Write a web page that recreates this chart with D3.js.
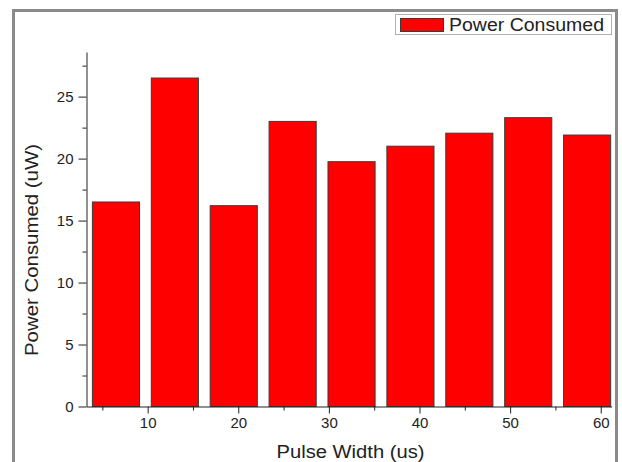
<!DOCTYPE html>
<html>
<head>
<meta charset="utf-8">
<script src="https://cdn.jsdelivr.net/npm/d3@7"></script>
<style>
  body { margin: 0; background: #fff; }
  text { font-family: "Liberation Sans", Arial, sans-serif; fill: #222; }
</style>
</head>
<body>
<script>
// values
var pulseX = [6.5, 13, 19.5, 26, 32.5, 39, 45.5, 52, 58.5];
var power = [16.5, 26.5, 16.2, 23.0, 19.75, 21.0, 22.05, 23.3, 21.9];
var xMajor = [10, 20, 30, 40, 50, 60];
var xMinor = [5, 15, 25, 35, 45, 55];
var yMajor = [0, 5, 10, 15, 20, 25];
var yMinor = [2.5, 7.5, 12.5, 17.5, 22.5, 27.5];
var barW = 5.2;

var width = 622, height = 462;

var svg = d3.select('body').append('svg')
  .attr('width', width)
  .attr('height', height);

// outer frame
svg.append('rect')
  .attr('x', 13.5).attr('y', 10.5)
  .attr('width', 603).attr('height', 470)
  .attr('fill', 'none')
  .attr('stroke', '#8a8a8a')
  .attr('stroke-width', 3);

var x = d3.scaleLinear().domain([3.25, 61.2]).range([86.5, 611.6]);
var y = d3.scaleLinear().domain([0, 28.6]).range([406.5, 52]);

// bars
svg.append('g').selectAll('rect')
  .data(power)
  .enter().append('rect')
    .attr('x', function(d, i) { return x(pulseX[i] - barW / 2); })
    .attr('width', function(d, i) { return x(pulseX[i] + barW / 2) - x(pulseX[i] - barW / 2); })
    .attr('y', function(d) { return y(d); })
    .attr('height', function(d) { return y(0) - y(d); })
    .attr('fill', '#ff0000')
    .attr('stroke', '#3a3a3a')
    .attr('stroke-width', 1);

// x axis
var xAxis = d3.axisBottom(x).tickValues(xMajor).tickSize(7).tickSizeOuter(0).tickPadding(4);
var gx = svg.append('g')
  .attr('transform', 'translate(0,' + y(0) + ')')
  .call(xAxis);
gx.selectAll('text').attr('font-size', 15).attr('fill', '#222');

svg.append('g')
  .attr('transform', 'translate(0,' + y(0) + ')')
  .call(d3.axisBottom(x).tickValues(xMinor).tickSize(4).tickSizeOuter(0).tickFormat(''))
  .select('.domain').remove();

// y axis
var yAxis = d3.axisLeft(y).tickValues(yMajor).tickSize(8).tickSizeOuter(0).tickPadding(5);
var gy = svg.append('g')
  .attr('transform', 'translate(' + x(3.25) + ',0)')
  .call(yAxis);
gy.selectAll('text').attr('font-size', 15).attr('fill', '#222');

svg.append('g')
  .attr('transform', 'translate(' + x(3.25) + ',0)')
  .call(d3.axisLeft(y).tickValues(yMinor).tickSize(4).tickSizeOuter(0).tickFormat(''))
  .select('.domain').remove();

svg.selectAll('.domain, .tick line').attr('stroke', '#222');

// axis titles
svg.append('text')
  .attr('x', 350.5).attr('y', 458)
  .attr('text-anchor', 'middle')
  .attr('font-size', 18)
  .attr('textLength', 148).attr('lengthAdjust', 'spacingAndGlyphs')
  .text('Pulse Width (us)');

svg.append('text')
  .attr('transform', 'translate(38,250) rotate(-90)')
  .attr('text-anchor', 'middle')
  .attr('font-size', 18)
  .attr('textLength', 212).attr('lengthAdjust', 'spacingAndGlyphs')
  .text('Power Consumed (uW)');

// legend
var legend = svg.append('g');
legend.append('rect')
  .attr('x', 395.5).attr('y', 14.5)
  .attr('width', 216).attr('height', 20)
  .attr('fill', '#fff')
  .attr('stroke', '#b0b0b0');
legend.append('rect')
  .attr('x', 400.5).attr('y', 18.5)
  .attr('width', 43).attr('height', 13)
  .attr('fill', '#ff0000')
  .attr('stroke', '#3a3a3a');
legend.append('text')
  .attr('x', 449).attr('y', 31)
  .attr('font-size', 18)
  .attr('textLength', 155).attr('lengthAdjust', 'spacingAndGlyphs')
  .text('Power Consumed');
</script>
</body>
</html>
